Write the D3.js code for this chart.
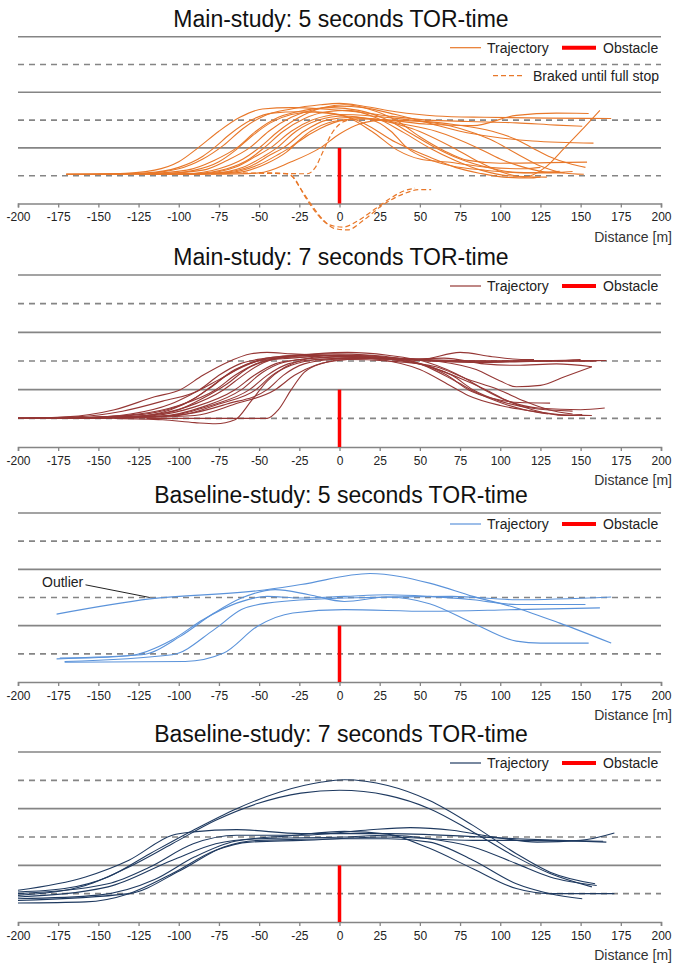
<!DOCTYPE html>
<html><head><meta charset="utf-8">
<script src="https://cdn.jsdelivr.net/npm/d3@7"></script>
<style>body{margin:0;background:#fff} svg{display:block;font-family:"Liberation Sans",Arial,sans-serif}</style>
</head><body><svg id="chart" width="674" height="965"></svg>
<script>
// ---------------- DATA ----------------
const xTicks = [-200,-175,-150,-125,-100,-75,-50,-25,0,25,50,75,100,125,150,175,200];
const solidLaneLines = [2,4,6];     // lateral position (half-lane units)
const dashedLaneLines = [1,3,5];
const obstacle = [[0,0],[0,2]];
const panelTitles = ["Main-study: 5 seconds TOR-time","Main-study: 7 seconds TOR-time","Baseline-study: 5 seconds TOR-time","Baseline-study: 7 seconds TOR-time"];
const panelColors = ["#E8782A","#953735","#5B93DA","#1F3A60"];
const legendTrajectory = "Trajectory";
const legendObstacle = "Obstacle";
const legendBraked = "Braked until full stop";
const outlierLabel = "Outlier";
const xAxisLabel = "Distance [m]";

const main5Trajectories = [
 [[-170,1.05],[-140,1.07],[-115,1.2],[-100,1.5],[-88,2.0],[-75,2.6],[-62,3.1],[-48,3.4],[-30,3.45],[-10,3.4],[10,3.3],[30,3.15],[55,3.0],[80,2.95],[110,2.9],[135,2.82],[151,2.78]],
 [[-170,1.05],[-125,1.07],[-100,1.25],[-85,1.6],[-72,2.1],[-60,2.7],[-47,3.15],[-30,3.4],[-12,3.55],[0,3.6],[15,3.5],[35,3.3],[60,3.15],[90,3.1],[130,3.07],[169,3.06]],
 [[-170,1.05],[-120,1.08],[-95,1.2],[-78,1.55],[-64,2.0],[-52,2.6],[-38,3.1],[-22,3.35],[-5,3.45],[12,3.35],[30,3.0],[45,2.5],[60,2.0],[75,1.6],[92,1.3],[110,1.12],[130,1.1],[145,1.15]],
 [[-170,1.05],[-110,1.08],[-85,1.2],[-70,1.55],[-56,2.0],[-44,2.6],[-30,3.1],[-14,3.4],[0,3.5],[15,3.45],[35,3.2],[55,2.9],[75,2.6],[95,2.4],[120,2.25],[158,2.17]],
 [[-125,1.05],[-95,1.07],[-75,1.25],[-60,1.6],[-50,2.0],[-38,2.6],[-25,3.1],[-10,3.45],[3,3.55],[18,3.4],[35,3.0],[50,2.4],[65,1.9],[80,1.55],[100,1.45],[130,1.47],[154,1.49]],
 [[-125,1.05],[-90,1.08],[-70,1.25],[-56,1.6],[-47,2.0],[-35,2.6],[-22,3.05],[-8,3.3],[6,3.35],[22,3.1],[40,2.55],[56,2.0],[72,1.55],[88,1.2],[105,1.0],[129,0.95]],
 [[-120,1.05],[-85,1.08],[-65,1.3],[-52,1.7],[-43,2.0],[-30,2.6],[-17,3.0],[0,3.2],[20,3.15],[45,3.0],[70,2.85],[95,2.6],[110,2.3],[120,2.0],[130,1.7],[145,1.4],[153,1.3]],
 [[-110,1.05],[-80,1.08],[-60,1.3],[-47,1.7],[-39,2.0],[-27,2.6],[-13,3.0],[3,3.15],[18,3.05],[32,2.6],[42,2.0],[55,1.6],[70,1.35],[90,1.2],[115,1.1],[137,1.16]],
 [[-100,1.05],[-75,1.1],[-55,1.35],[-43,1.75],[-35,2.0],[-22,2.6],[-8,3.0],[8,3.1],[25,3.0],[45,2.7],[71,2.0],[85,1.55],[100,1.15],[115,0.95],[128,1.3],[140,2.0],[150,2.6],[162,3.35]],
 [[-95,1.05],[-70,1.1],[-50,1.4],[-37,1.8],[-31,2.0],[-18,2.6],[-4,2.95],[12,3.05],[30,3.0],[55,2.85],[83,2.8],[110,3.17],[135,3.25],[155,3.24]],
 [[-90,1.05],[-65,1.1],[-45,1.45],[-33,1.85],[-26,2.2],[-12,2.7],[3,3.0],[20,3.05],[40,2.85],[60,2.6],[86,2.0],[100,1.6],[115,1.3],[130,1.12],[140,1.1]],
 [[-80,1.05],[-50,1.1],[-30,1.5],[-12,2.0],[0,2.5],[12,2.85],[28,3.0],[50,2.95],[75,2.7],[94,2.3],[110,1.8],[125,1.35],[140,1.1],[152,1.05]],
 [[-150,1.05],[-120,1.1],[-100,1.3],[-85,1.7],[-78,2.0],[-68,2.5],[-55,3.0],[-42,3.25],[-25,3.3],[-8,3.25],[5,3.1],[20,2.6],[36,1.92],[50,1.6],[67,1.49],[93,1.3],[115,1.25],[125,1.3]],
 [[-140,1.05],[-110,1.07],[-90,1.2],[-75,1.5],[-65,1.9],[-55,2.4],[-43,2.9],[-30,3.2],[-15,3.3],[0,3.2],[15,2.89],[35,2.2],[56,1.67],[72,1.3],[87,1.09],[102,0.95],[118,0.92],[125,0.95]]
];
const main5Braked = [
 [[-60,1.1],[-40,1.08],[-20,1.07],[-15,1.3],[-10,1.9],[-5,2.5],[0,2.85],[5,3.0]],
 [[-50,1.1],[-35,1.08],[-30,1.0],[-25,0.6],[-18,0.0],[-10,-0.6],[-3,-0.9],[5,-0.95],[15,-0.6],[27,-0.05],[40,0.35],[50,0.5],[57,0.5]],
 [[-50,1.1],[-33,1.08],[-28,0.9],[-22,0.3],[-15,-0.3],[-7,-0.75],[2,-0.85],[12,-0.6],[22,-0.2],[32,0.2],[40,0.45],[47,0.55]]
];
const main7Trajectories = [
 [[-200,1.0],[-170,1.05],[-140,1.3],[-115,1.75],[-99,2.0],[-85,2.5],[-70,2.95],[-55,3.25],[-45,3.3],[-30,3.25],[-10,3.2],[10,3.15],[40,3.05],[70,3.0],[100,3.0],[121,3.02]],
 [[-200,1.0],[-165,1.05],[-135,1.25],[-110,1.6],[-87,2.0],[-75,2.5],[-62,2.9],[-45,3.1],[-25,3.2],[-5,3.25],[20,3.2],[45,3.0],[67,2.5],[80,2.0],[95,1.7],[112,1.55],[131,1.53]],
 [[-200,1.0],[-160,1.03],[-125,1.15],[-100,1.45],[-77,2.0],[-65,2.5],[-52,2.9],[-35,3.15],[-15,3.25],[5,3.3],[30,3.2],[55,2.95],[78,2.4],[90,2.0],[105,1.6],[125,1.35],[150,1.3],[165,1.36]],
 [[-200,1.0],[-155,1.03],[-120,1.1],[-95,1.4],[-72,2.0],[-60,2.5],[-47,2.95],[-30,3.15],[-10,3.2],[15,3.2],[40,3.05],[60,3.0],[85,2.95],[115,3.0],[140,3.0],[166,3.02]],
 [[-200,1.0],[-150,1.02],[-115,1.1],[-90,1.4],[-65,2.0],[-53,2.5],[-40,2.9],[-25,3.05],[0,3.15],[25,3.1],[50,2.9],[75,2.4],[91,2.0],[105,1.6],[120,1.3],[140,1.1],[151,1.13]],
 [[-200,1.0],[-145,1.02],[-110,1.08],[-85,1.4],[-61,2.0],[-48,2.6],[-35,2.95],[-15,3.1],[10,3.15],[35,3.1],[60,3.0],[85,2.7],[100,2.3],[110,2.1],[125,2.15],[140,2.45],[157,2.8]],
 [[-200,1.0],[-140,1.02],[-105,1.1],[-80,1.45],[-56,2.0],[-45,2.5],[-32,2.9],[-15,3.05],[10,3.1],[40,3.05],[70,3.0],[100,3.0],[130,3.02],[158,3.0]],
 [[-180,1.0],[-135,1.02],[-100,1.1],[-75,1.5],[-52,2.0],[-42,2.5],[-30,2.85],[-12,3.05],[15,3.1],[45,2.95],[70,2.5],[83,2.0],[100,1.6],[120,1.35],[145,1.25]],
 [[-175,1.0],[-130,1.03],[-95,1.15],[-70,1.5],[-45,2.0],[-35,2.5],[-22,2.9],[-5,3.05],[20,3.1],[50,3.05],[75,3.3],[95,3.15],[115,3.05],[121,3.05]],
 [[-170,1.0],[-125,1.03],[-90,1.1],[-65,1.5],[-40,2.0],[-28,2.5],[-15,2.85],[5,3.05],[30,3.1],[60,3.0],[90,3.0],[120,3.0],[150,3.05]],
 [[-140,1.0],[-110,0.95],[-90,0.85],[-77,0.81],[-65,0.95],[-55,1.6],[-45,2.3],[-35,2.75],[-25,3.0],[-5,3.2],[30,3.1],[60,3.0],[90,2.95],[130,3.0],[165,3.02]],
 [[-120,1.0],[-80,1.0],[-45,1.0],[-38,1.3],[-30,2.0],[-22,2.6],[-12,2.9],[5,3.05],[30,3.0],[60,2.8],[78,2.4],[99,2.0],[115,1.6],[130,1.3],[145,1.15]],
 [[-200,1.0],[-130,1.05],[-105,1.3],[-90,1.7],[-80,2.1],[-65,2.7],[-50,3.0],[-30,3.1],[0,3.2],[25,3.15],[50,2.9],[72,2.3],[85,1.9],[100,1.55],[115,1.3],[130,1.15]],
 [[-190,1.0],[-145,1.05],[-115,1.2],[-95,1.55],[-82,2.0],[-70,2.5],[-55,2.95],[-40,3.1],[-20,3.15],[0,3.2],[30,3.1],[55,3.05],[80,3.0],[110,2.98],[140,3.0],[160,3.0]],
 [[-200,1.0],[-160,1.02],[-130,1.15],[-105,1.5],[-90,1.9],[-75,2.35],[-60,2.8],[-45,3.1],[-25,3.2],[0,3.15],[25,3.05],[50,2.7],[67,2.2],[80,1.8],[100,1.45],[120,1.25],[140,1.12],[157,1.1]],
 [[-175,1.0],[-150,1.02],[-120,1.1],[-100,1.3],[-85,1.7],[-70,2.2],[-57,2.75],[-42,3.05],[-20,3.2],[5,3.15],[35,3.05],[65,3.1],[90,2.9],[110,2.85],[135,2.9],[157,2.8]]
];
const base5Trajectories = [
 [[-176,2.41],[-118,2.95],[-51,3.24],[-24,3.46],[19,3.85],[56,3.51],[83,3.04],[110,2.63],[137,2.09],[169,1.38]],
 [[-176,0.82],[-131,0.93],[-104,1.5],[-85,2.21],[-64,2.8],[-45,3.04],[-24,2.98],[3,3.04],[30,3.1],[56,3.04],[83,2.92],[110,2.75],[153,2.75]],
 [[-174,0.85],[-123,0.97],[-99,1.62],[-78,2.45],[-61,2.98],[-40,3.28],[-19,3.1],[3,2.86],[30,3.02],[56,2.78],[83,2.09],[110,1.45],[125,1.38],[155,1.38]],
 [[-171,0.73],[-104,0.97],[-78,1.86],[-61,2.57],[-45,2.8],[3,2.98],[70,3.04],[110,2.92],[169,3.02]],
 [[-171,0.70],[-96,0.73],[-72,1.03],[-51,1.98],[-29,2.45],[3,2.57],[56,2.51],[110,2.57],[162,2.63]]
];
const base7Trajectories = [
 [[-200,1.06],[-171,1.18],[-144,1.59],[-118,2.41],[-91,3.24],[-64,4.0],[-37,4.59],[-11,4.94],[3,5.02],[30,4.82],[56,4.29],[83,3.41],[110,2.41],[131,1.76],[159,1.35]],
 [[-200,0.94],[-158,1.29],[-131,1.94],[-104,2.76],[-77,3.59],[-51,4.18],[-24,4.55],[0,4.65],[30,4.47],[56,4.0],[83,3.18],[110,2.29],[131,1.71],[157,1.24]],
 [[-200,1.12],[-158,1.59],[-131,2.18],[-104,3.06],[-91,3.18],[-64,3.26],[-24,3.12],[30,3.12],[110,2.94],[137,2.88],[166,2.82]],
 [[-200,1.0],[-144,1.35],[-118,1.94],[-91,2.76],[-64,3.06],[-24,3.06],[16,3.24],[44,3.33],[70,3.24],[96,3.0],[123,2.82],[150,2.88],[171,3.14]],
 [[-200,0.88],[-144,1.24],[-104,2.18],[-77,2.76],[-51,2.94],[3,3.0],[30,3.06],[56,2.94],[83,2.65],[110,2.06],[131,1.59],[160,1.29]],
 [[-200,0.76],[-131,1.0],[-99,1.82],[-72,2.65],[-51,2.88],[3,2.94],[30,2.94],[56,2.82],[83,2.18],[110,1.35],[131,1.0],[151,0.82]],
 [[-200,0.67],[-158,0.71],[-131,1.0],[-104,1.71],[-77,2.53],[-56,2.82],[-24,2.88],[30,3.0],[83,2.88],[110,2.88],[164,2.85]],
 [[-200,0.82],[-150,0.95],[-115,1.5],[-90,2.3],[-65,2.85],[-30,3.05],[3,3.2],[30,3.1],[56,2.6],[83,1.88],[110,1.18],[131,1.0],[171,1.0]]
];
const panelTrajectories = [main5Trajectories, main7Trajectories, base5Trajectories, base7Trajectories];

// ---------------- LAYOUT ----------------
const panelLayout = [
 {top:36.7, axis:203.5},
 {top:275, axis:447},
 {top:513, axis:682},
 {top:752, axis:922}
];
const gray = "#858585";
const svg = d3.select("#chart");

panelLayout.forEach((L, i) => {
  const g = svg.append("g");
  const x = d3.scaleLinear().domain([-200,200]).range([18,661]);
  const y = d3.scaleLinear().domain([0,6]).range([L.axis, L.top]);
  const color = panelColors[i];

  g.append("text").attr("x", 341).attr("y", L.top - 10).attr("text-anchor","middle")
    .attr("font-size", 23).attr("fill","#111").text(panelTitles[i]);

  g.selectAll(".solid").data(solidLaneLines).join("line")
    .attr("x1", x(-200)).attr("x2", x(200)).attr("y1", d=>y(d)).attr("y2", d=>y(d))
    .attr("stroke", gray).attr("stroke-width", 1.6);
  g.selectAll(".dashed").data(dashedLaneLines).join("line")
    .attr("x1", x(-200)).attr("x2", x(200)).attr("y1", d=>y(d)).attr("y2", d=>y(d))
    .attr("stroke", gray).attr("stroke-width", 1.6).attr("stroke-dasharray","6,5");

  const ax = g.append("g").attr("transform", `translate(0,${y(0)})`)
    .call(d3.axisBottom(x).tickValues(xTicks).tickFormat(d => String(d)).tickSize(4).tickPadding(5).tickSizeOuter(4));
  ax.select(".domain").attr("stroke", gray).attr("stroke-width", 1.6);
  ax.selectAll(".tick line").attr("stroke", gray).attr("stroke-width", 1.3);
  ax.selectAll(".tick text").attr("font-size", 12).attr("fill","#222")
    .attr("font-family",'"Liberation Sans",Arial,sans-serif');
  g.append("text").attr("x", 672).attr("y", y(0)+38).attr("text-anchor","end")
    .attr("font-size", 14).attr("fill","#333").text(xAxisLabel);

  const line = d3.line().x(d=>x(d[0])).y(d=>y(d[1])).curve(d3.curveMonotoneX);

  g.append("g").selectAll("path").data(panelTrajectories[i]).join("path")
    .attr("d", line).attr("fill","none").attr("stroke", color).attr("stroke-width", 1.1);
  if (i === 0) {
    g.append("g").selectAll("path").data(main5Braked).join("path")
      .attr("d", line).attr("fill","none").attr("stroke", color).attr("stroke-width", 1.2)
      .attr("stroke-dasharray","5,3");
  }

  g.append("path").attr("d", d3.line().x(d=>x(d[0])).y(d=>y(d[1]))(obstacle))
    .attr("stroke","#FF0000").attr("stroke-width", 3.5).attr("fill","none");

  const ly = L.top + 11;
  g.append("line").attr("x1",450).attr("x2",481).attr("y1",ly).attr("y2",ly)
    .attr("stroke", color).attr("stroke-width",1.2);
  g.append("text").attr("x",487).attr("y",ly+5).attr("font-size",14).attr("fill","#222").text(legendTrajectory);
  g.append("line").attr("x1",562).attr("x2",596).attr("y1",ly).attr("y2",ly)
    .attr("stroke","#FF0000").attr("stroke-width",4);
  g.append("text").attr("x",603).attr("y",ly+5).attr("font-size",14).attr("fill","#222").text(legendObstacle);
  if (i === 0) {
    const ly2 = L.top + 39;
    g.append("line").attr("x1",493).attr("x2",523).attr("y1",ly2).attr("y2",ly2)
      .attr("stroke", color).attr("stroke-width",1.2).attr("stroke-dasharray","5,3");
    g.append("text").attr("x",533).attr("y",ly2+5).attr("font-size",14).attr("fill","#222").text(legendBraked);
  }
  if (i === 2) {
    g.append("text").attr("x", 42).attr("y", y(3.55)+5).attr("font-size",14).attr("fill","#222").text(outlierLabel);
    g.append("line").attr("x1", x(-158)).attr("y1", y(3.45)).attr("x2", x(-118)).attr("y2", y(3.0))
      .attr("stroke","#222").attr("stroke-width",1);
  }
});
</script></body></html>
